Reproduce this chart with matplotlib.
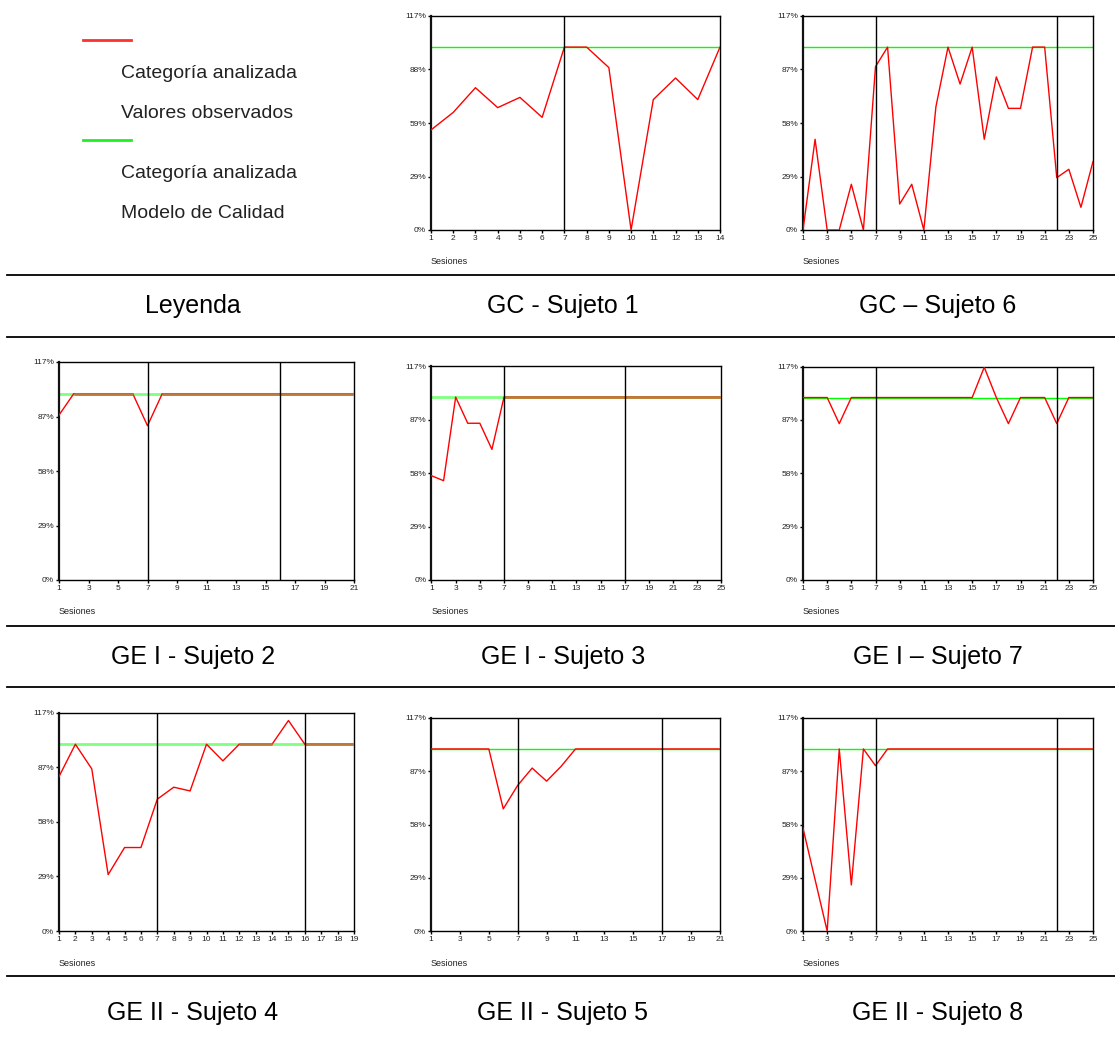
import numpy as np
import matplotlib
matplotlib.use("Agg")
import matplotlib.pyplot as plt
from matplotlib.lines import Line2D

plt.rcParams['font.family'] = ['Liberation Sans', 'DejaVu Sans']

# ---------------- data (percent of quality model) ----------------
model_level = 100.0

gc1_values = [54.7, 64.3, 77.8, 66.9, 72.5, 61.6, 100, 100, 88.8, 0, 71.3, 83.1, 71.3, 100]
gc1_phases = [7]

gc6_values = [0, 49.6, 0, 0, 25, 0, 89.3, 100, 14.2, 25, 0, 67.4, 100, 79.8, 100,
              49.6, 83.7, 66.5, 66.5, 100, 100, 28.6, 33.2, 12.4, 37.4]
gc6_phases = [7, 22]

s2_values = [88.5, 100, 100, 100, 100, 100, 82.8, 100, 100, 100, 100, 100, 100, 100,
             100, 100, 100, 100, 100, 100, 100]
s2_phases = [7, 16]

s3_values = [57.0, 54.3, 100, 85.7, 85.7, 71.4, 100, 100, 100, 100, 100, 100, 100,
             100, 100, 100, 100, 100, 100, 100, 100, 100, 100, 100, 100]
s3_phases = [7, 17]

s7_values = [100, 100, 100, 85.7, 100, 100, 100, 100, 100, 100, 100, 100, 100, 100,
             100, 116.6, 100, 85.7, 100, 100, 100, 85.7, 100, 100, 100]
s7_phases = [7, 22]

s4_values = [82.7, 100, 86.8, 30.2, 44.7, 44.7, 70.6, 77.0, 75.0, 100, 91.1, 100,
             100, 100, 112.7, 100, 100, 100, 100]
s4_phases = [7, 16]

s5_values = [100, 100, 100, 100, 100, 67.1, 80.0, 89.5, 82.3, 90.4, 100, 100, 100,
             100, 100, 100, 100, 100, 100, 100, 100]
s5_phases = [7, 17]

s8_values = [56.5, 28.2, 0, 100, 25.3, 100, 90.8, 100, 100, 100, 100, 100, 100, 100,
             100, 100, 100, 100, 100, 100, 100, 100, 100, 100, 100]
s8_phases = [7, 22]

ytick_vals = [0, 29.25, 58.5, 87.75, 117]
ytick_labels_a = ['0%', '29%', '59%', '88%', '117%']
ytick_labels_b = ['0%', '29%', '58%', '87%', '117%']

captions_row1 = ['Leyenda', 'GC - Sujeto 1', 'GC \u2013 Sujeto 6']
captions_row2 = ['GE I - Sujeto 2', 'GE I - Sujeto 3', 'GE I \u2013 Sujeto 7']
captions_row3 = ['GE II - Sujeto 4', 'GE II - Sujeto 5', 'GE II - Sujeto 8']

legend_texts = ['Categoría analizada', 'Valores observados',
                'Categoría analizada', 'Modelo de Calidad']

# ---------------- layout ----------------
W, H = 1115, 1044
fig = plt.figure(figsize=(W / 100, H / 100), dpi=100)
fig.patch.set_facecolor('white')


def fx(px):
    return px / W


def fy(py):
    return 1 - py / H


def add_ax(l, r, t, b):
    return fig.add_axes([fx(l), fy(b), fx(r - l), (b - t) / H])


def draw_chart(box, values, phases, tick_step, ylabels, blended):
    l, r, t, b = box
    ax = add_ax(l, r, t, b)
    n = len(values)
    x = np.arange(1, n + 1)
    y = np.array(values, dtype=float)
    if blended:
        ax.axhline(model_level, color='#80ff80', lw=2.0, zorder=2)
        ax.plot(x, y, color='red', lw=1.0, zorder=3)
        overlap = np.where(np.isclose(y, model_level), y, np.nan)
        ax.plot(x, overlap, color='#c07838', lw=2.0, zorder=4,
                solid_capstyle='butt')
    else:
        ax.axhline(model_level, color='#00ff00', lw=1.0, zorder=2)
        ax.plot(x, y, color='red', lw=1.0, zorder=3)
    for p in phases:
        ax.axvline(p, color='black', lw=1.0, zorder=5)
    ax.set_xlim(1, n)
    ax.set_ylim(0, 117)
    ax.set_yticks(ytick_vals)
    ax.set_yticklabels(ylabels)
    ax.set_xticks(np.arange(1, n + 1, tick_step))
    ax.tick_params(axis='both', labelsize=6, length=2, width=1.0, pad=1.5,
                   colors='black', labelcolor='#222222', direction='out')
    for side in ['top', 'right', 'bottom']:
        ax.spines[side].set_linewidth(1.0)
        ax.spines[side].set_color('black')
    ax.spines['left'].set_linewidth(1.6)
    ax.spines['left'].set_color('#111111')
    fig.text(fx(l), fy(b + 32), 'Sesiones', fontsize=6.5, color='#222222',
             ha='left', va='center')
    return ax


draw_chart((431, 720, 16, 230), gc1_values, gc1_phases, 1, ytick_labels_a, False)
draw_chart((803, 1093, 16, 230), gc6_values, gc6_phases, 2, ytick_labels_b, False)
draw_chart((59, 354, 362, 580), s2_values, s2_phases, 2, ytick_labels_b, True)
draw_chart((431.5, 721.5, 366, 580), s3_values, s3_phases, 2, ytick_labels_b, True)
draw_chart((803, 1093, 366.5, 580), s7_values, s7_phases, 2, ytick_labels_b, False)
draw_chart((59, 354, 712.5, 931), s4_values, s4_phases, 1, ytick_labels_b, True)
draw_chart((431, 720, 718, 931), s5_values, s5_phases, 2, ytick_labels_b, False)
draw_chart((803, 1093, 718, 931), s8_values, s8_phases, 2, ytick_labels_b, False)

# legend block
fig.add_artist(Line2D([fx(83), fx(131)], [fy(40), fy(40)], color='#ff3030', lw=2.0))
fig.add_artist(Line2D([fx(83), fx(131)], [fy(140), fy(140)], color='#20f020', lw=2.0))
for txt, ypx in zip(legend_texts, [73, 113, 173, 213]):
    fig.text(fx(121), fy(ypx), txt, fontsize=14, color='#222222',
             ha='left', va='center')

# separator lines
for ypx in [275, 337, 626, 687, 976]:
    fig.add_artist(Line2D([fx(7), fx(1115)], [fy(ypx), fy(ypx)],
                          color='black', lw=1.3))

# captions
col_centers = [193, 563, 938]
for caps, ypx in [(captions_row1, 306), (captions_row2, 657), (captions_row3, 1013)]:
    for c, cx in zip(caps, col_centers):
        fig.text(fx(cx), fy(ypx), c, fontsize=18, color='black',
                 ha='center', va='center')

fig.savefig('out.png', dpi=100, facecolor='white')
